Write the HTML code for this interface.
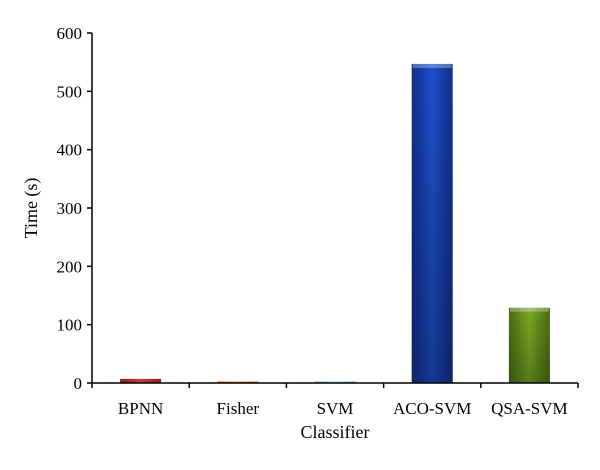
<!DOCTYPE html>
<html><head><meta charset="utf-8"><style>
body{margin:0;background:#fff}svg{display:block}
text{font-family:"Liberation Serif",serif;fill:#000}
</style></head><body>
<svg id="chart" width="600" height="470" viewBox="0 0 600 470">
<defs>
<linearGradient id="g0" x1="0" x2="1"><stop offset="0" stop-color="#8e1a18"/><stop offset=".5" stop-color="#d03a35"/><stop offset="1" stop-color="#8e1a18"/></linearGradient>
<linearGradient id="g1" x1="0" x2="1"><stop offset="0" stop-color="#b85a1c"/><stop offset=".5" stop-color="#f08a40"/><stop offset="1" stop-color="#b85a1c"/></linearGradient>
<linearGradient id="g2" x1="0" x2="1"><stop offset="0" stop-color="#5aa8c8"/><stop offset=".5" stop-color="#9fd8ee"/><stop offset="1" stop-color="#5aa8c8"/></linearGradient>
<linearGradient id="g3" x1="0" x2="1"><stop offset="0" stop-color="#0f2f8a"/><stop offset=".5" stop-color="#1f4fcc"/><stop offset="1" stop-color="#0f2f8a"/></linearGradient>
<linearGradient id="g4" x1="0" x2="1"><stop offset="0" stop-color="#4a6e12"/><stop offset=".5" stop-color="#7aab22"/><stop offset="1" stop-color="#4a6e12"/></linearGradient>
<linearGradient id="v3" x1="0" y1="0" x2="0" y2="1"><stop offset="0" stop-color="#000" stop-opacity="0"/><stop offset="1" stop-color="#000" stop-opacity=".45"/></linearGradient>
</defs>
<g id="plot"></g>
<text transform="translate(37,208) rotate(-90)" text-anchor="middle" font-size="18">Time (s)</text>
<text x="335" y="438" text-anchor="middle" font-size="18">Classifier</text>
</svg>
<script>
const categories=["BPNN","Fisher","SVM","ACO-SVM","QSA-SVM"];
const values=[7,2,1,547,129];
const yTicks=[0,100,200,300,400,500,600];
const x0=92,x1=578,yBase=383,yTop=33,yMax=600,bw=41;
const grads=["g0","g1","g2","g3","g4"];
const ys=v=>yBase-(v/yMax)*(yBase-yTop);
const step=(x1-x0)/categories.length;
const xc=i=>x0+step*(i+0.5);
const NS="http://www.w3.org/2000/svg";
const g=document.getElementById("plot");
function mk(t,a){const e=document.createElementNS(NS,t);for(const k in a)e.setAttribute(k,a[k]);g.appendChild(e);return e;}
values.forEach((v,i)=>{
 const y=ys(v),h=Math.max(yBase-y,1.5);
 const r=mk("rect",{x:xc(i)-bw/2,y:yBase-h,width:bw,height:h,fill:"url(#"+grads[i]+")"});
 
 
 if(h>10){const s=mk("rect",{x:xc(i)-bw/2,y:yBase-h,width:bw,height:h,fill:"url(#v3)",opacity:.6});
 
 
 const t=mk("rect",{x:xc(i)-bw/2+1,y:yBase-h,width:bw-2,height:4,fill:"#fff",opacity:.3});
 
 }
 const lb=mk("text",{x:xc(i),y:414,"text-anchor":"middle","font-size":"17"});
 lb.textContent=categories[i];
 
 
});
for(let i=0;i<=categories.length;i++){
 const t=mk("line",{x1:x0+step*i,x2:x0+step*i,y1:yBase,y2:yBase+5,stroke:"#000","stroke-width":1.5});
 
 
}
yTicks.forEach(v=>{
 const t=mk("line",{x1:x0-5,x2:x0,y1:ys(v),y2:ys(v),stroke:"#000","stroke-width":1.5});
 
 
 const l=mk("text",{x:x0-10,y:ys(v)+6,"text-anchor":"end","font-size":"17"});
 l.textContent=v;
 
 
});
const ya=mk("line",{x1:x0,x2:x0,y1:yTop,y2:yBase,stroke:"#000","stroke-width":1.5});


const xa=mk("line",{x1:x0,x2:x1,y1:yBase,y2:yBase,stroke:"#000","stroke-width":1.5});


</script>
</body></html>
